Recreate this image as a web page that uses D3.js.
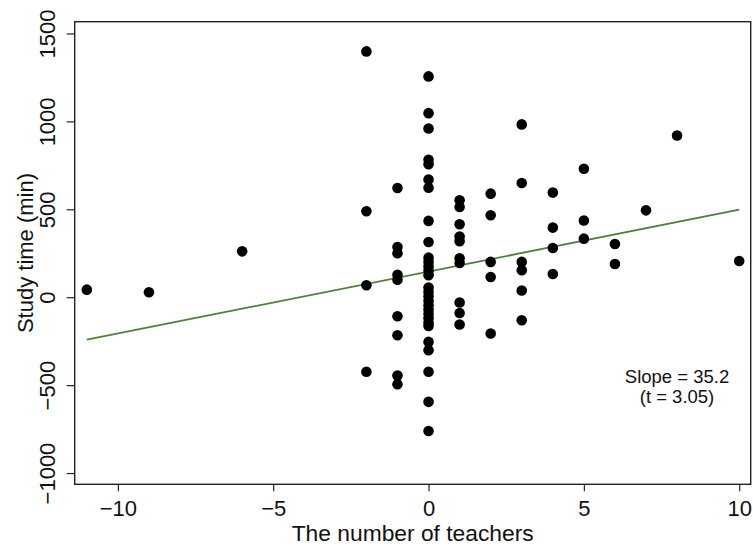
<!DOCTYPE html>
<html>
<head>
<meta charset="utf-8">
<script src="https://cdn.jsdelivr.net/npm/d3@7"></script>
<style>
  body{margin:0;background:#fff;}
  text{font-family:"Liberation Sans",Arial,Helvetica,sans-serif;fill:#111;}
</style>
</head>
<body>
<svg id="canvas"></svg>
<script>
// x values (number of teachers) and the study times seen at each of them
let teacherCounts=[-11,-9,-6,-2,-1,0,1,2,3,4,5,6,7,8,10];
let studyTimes=[
  [43],
  [28],
  [261],
  [1398,489,68,-424],
  [621,286,250,128,100,-108,-216,-445,-495],
  [1256,1047,960,782,756,669,623,434,314,225,200,175,150,125,55,30,5,-20,-45,-70,-95,-120,-145,-163,-254,-301,-424,-595,-761],
  [551,513,415,345,318,222,195,-30,-90,-155],
  [589,466,201,115,-206],
  [983,650,201,153,38,-131],
  [595,396,280,132],
  [731,436,333],
  [303,189],
  [494],
  [920],
  [206]
];
let xTicks=[-10,-5,0,5,10];
let yTicks=[-1000,-500,0,500,1000,1500];
let slope=35.2;
let intercept=146;
let tValue=3.05;

let width=753;
let height=546;
let plotLeft=74.7,plotRight=750.7,plotTop=21.7,plotBottom=484.3;

let canvas=d3.select("#canvas")
canvas.attr('width',width)
canvas.attr('height',height)

let points=[];
teacherCounts.forEach((t,i)=>{
    studyTimes[i].forEach((s)=>{
        points.push({teachers:t,study:s});
    });
});

let xscale=d3.scaleLinear().domain([-11.39,10.37]).range([plotLeft,plotRight]);
let yscale=d3.scaleLinear().domain([-1064,1567]).range([plotBottom,plotTop]);

let minus=(v)=>String(v).replace('-','\u2212');

// fitted line
let xMin=d3.min(teacherCounts),xMax=d3.max(teacherCounts);
canvas.append('line')
    .attr('x1',xscale(xMin))
    .attr('y1',yscale(intercept+slope*xMin))
    .attr('x2',xscale(xMax))
    .attr('y2',yscale(intercept+slope*xMax))
    .attr('stroke','#4e7f3c')
    .attr('stroke-width',1.8);

canvas.selectAll('circle')
    .data(points)
    .enter()
    .append('circle')
    .attr('cx',(d)=>xscale(d.teachers))
    .attr('cy',(d)=>yscale(d.study))
    .attr('r',5.3)
    .attr('fill','#000');

// frame
canvas.append('rect')
    .attr('x',plotLeft)
    .attr('y',plotTop)
    .attr('width',plotRight-plotLeft)
    .attr('height',plotBottom-plotTop)
    .attr('fill','none')
    .attr('stroke','#222')
    .attr('stroke-width',1.4);

let xAxis=d3.axisBottom(xscale).tickValues(xTicks).tickSize(7).tickSizeOuter(0).tickFormat(minus);
let gx=canvas.append('g')
    .attr('transform','translate(0,'+plotBottom+')')
    .call(xAxis);
gx.select('.domain').remove();
gx.selectAll('line').attr('stroke','#222').attr('stroke-width',1.2);
gx.selectAll('text')
    .attr('y',null).attr('dy',null)
    .attr('transform','translate(0,31.5)')
    .style('font-size','22px')
    .attr('fill','#111');

let yAxis=d3.axisLeft(yscale).tickValues(yTicks).tickSize(8).tickSizeOuter(0).tickFormat(minus);
let gy=canvas.append('g')
    .attr('transform','translate('+plotLeft+',0)')
    .call(yAxis);
gy.select('.domain').remove();
gy.selectAll('line').attr('stroke','#222').attr('stroke-width',1.2);
gy.selectAll('text')
    .attr('x',null).attr('dy',null)
    .attr('transform','translate(-19.7,0) rotate(-90)')
    .attr('text-anchor','middle')
    .style('font-size','22px')
    .attr('fill','#111');

// axis titles
canvas.append('text')
    .attr('x',(plotLeft+plotRight)/2)
    .attr('y',541)
    .attr('text-anchor','middle')
    .style('font-size','22.8px')
    .text('The number of teachers');

canvas.append('text')
    .attr('transform','translate(33,'+((plotTop+plotBottom)/2)+') rotate(-90)')
    .attr('text-anchor','middle')
    .style('font-size','22px')
    .text('Study time (min)');

// annotation
let note=canvas.append('text')
    .attr('x',677)
    .attr('y',383)
    .attr('text-anchor','middle')
    .style('font-size','18.5px');
note.append('tspan').attr('x',677).text('Slope = '+slope);
note.append('tspan').attr('x',677).attr('dy',20).text('(t = '+tValue+')');
</script>
</body>
</html>
